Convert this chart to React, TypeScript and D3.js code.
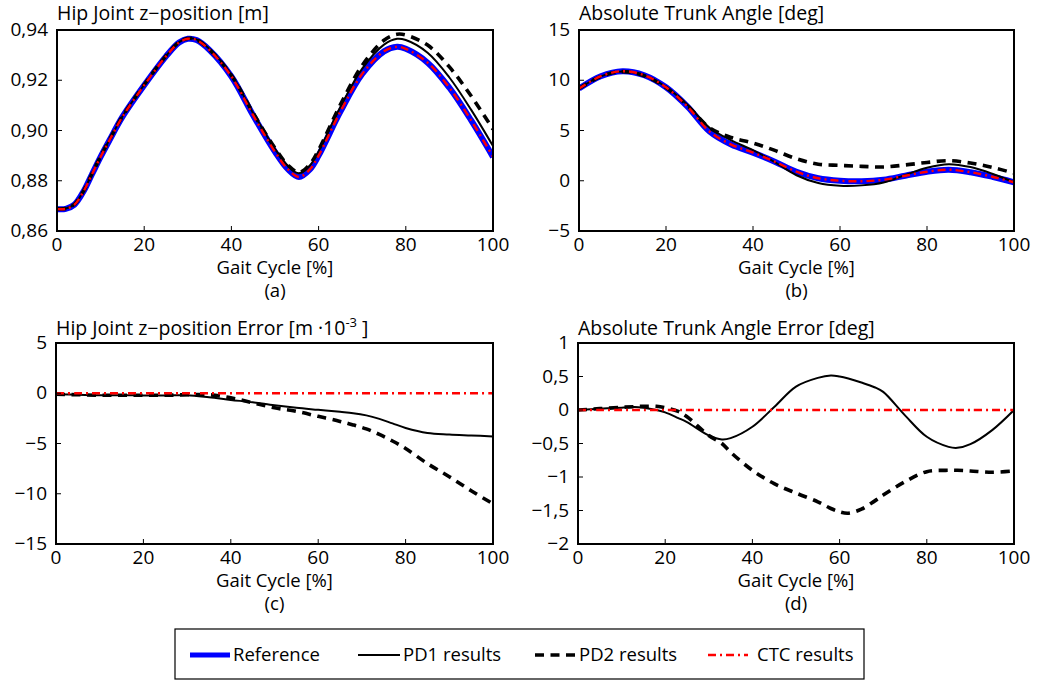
import React from "react";
import * as d3 from "d3";

// ---------- DATA ----------
const gaitHip = [0, 2, 4, 6, 8, 10, 12, 15, 20, 25, 28, 30, 32, 35, 40, 45, 50, 53, 55.5, 58, 60, 65, 70, 75, 78, 80, 85, 90, 95, 100];
const refHip = [0.8687, 0.8688, 0.8705, 0.8755, 0.8825, 0.8895, 0.896, 0.9054, 0.918, 0.9295, 0.935, 0.9365, 0.936, 0.932, 0.9215, 0.906, 0.8915, 0.8845, 0.8815, 0.8845, 0.89, 0.9075, 0.9225, 0.9315, 0.9333, 0.9325, 0.927, 0.917, 0.904, 0.8895];
const pd1Hip = [0.8688, 0.86895, 0.87065, 0.87567, 0.88268, 0.8897, 0.8962, 0.9056, 0.9182, 0.9297, 0.9352, 0.9367, 0.93625, 0.9324, 0.92216, 0.9069, 0.8927, 0.88585, 0.88297, 0.88607, 0.89165, 0.90935, 0.9246, 0.9342, 0.9365, 0.936, 0.93095, 0.9211, 0.9082, 0.8938];
const pd2Hip = [0.8688, 0.86895, 0.87065, 0.87567, 0.88268, 0.8897, 0.8962, 0.9056, 0.9182, 0.9297, 0.93515, 0.93665, 0.93615, 0.93215, 0.92195, 0.90695, 0.89295, 0.88615, 0.8833, 0.88655, 0.8923, 0.9103, 0.9259, 0.9359, 0.9383, 0.938, 0.934, 0.9253, 0.9137, 0.9005];
const ctcHip = [0.8687, 0.8688, 0.8705, 0.8755, 0.8825, 0.8895, 0.896, 0.9054, 0.918, 0.9295, 0.935, 0.9365, 0.936, 0.932, 0.9215, 0.906, 0.8915, 0.8845, 0.8815, 0.8845, 0.89, 0.9075, 0.9225, 0.9315, 0.9333, 0.9325, 0.927, 0.917, 0.904, 0.8895];

const gaitTrunk = [0, 5, 10, 15, 20, 25, 30, 35, 40, 45, 50, 55, 60, 65, 70, 75, 80, 85, 90, 95, 100];
const refTrunk = [9.17, 10.4, 10.9, 10.5, 9.3, 7.35, 4.9, 3.6, 2.8, 1.9, 0.9, 0.25, 0.0, -0.05, 0.1, 0.5, 0.9, 1.1, 0.85, 0.4, -0.15];
const pd1Trunk = [9.17, 10.38, 10.87, 10.47, 9.34, 7.53, 5.28, 4.02, 3.05, 1.86, 0.55, -0.23, -0.5, -0.46, -0.17, 0.58, 1.3, 1.65, 1.36, 0.7, -0.15];
const pd2Trunk = [9.17, 10.38, 10.86, 10.45, 9.27, 7.45, 5.28, 4.3, 3.75, 3.02, 2.19, 1.65, 1.53, 1.43, 1.37, 1.57, 1.82, 2.0, 1.76, 1.33, 0.76];
const ctcTrunk = [9.17, 10.4, 10.9, 10.5, 9.3, 7.35, 4.9, 3.6, 2.8, 1.9, 0.9, 0.25, 0.0, -0.05, 0.1, 0.5, 0.9, 1.1, 0.85, 0.4, -0.15];

const gaitHipErr = [0, 5, 10, 15, 20, 25, 30, 35, 40, 45, 50, 55, 60, 65, 68, 71, 74, 77, 80, 85, 90, 95, 100];
const pd1HipErr = [-0.1, -0.15, -0.2, -0.2, -0.22, -0.22, -0.2, -0.4, -0.66, -0.9, -1.2, -1.45, -1.65, -1.85, -1.98, -2.2, -2.55, -3.0, -3.45, -3.95, -4.1, -4.2, -4.3];
const pd2HipErr = [-0.1, -0.15, -0.2, -0.2, -0.2, -0.2, -0.15, -0.15, -0.45, -0.95, -1.45, -1.8, -2.3, -2.8, -3.15, -3.55, -4.1, -4.75, -5.5, -7.0, -8.3, -9.7, -11.0];
const ctcHipErr = [0, 0, 0, 0, 0, 0, 0, 0, 0, 0, 0, 0, 0, 0, 0, 0, 0, 0, 0, 0, 0, 0, 0];

const gaitTrunkErr = [0, 5, 10, 13, 15, 18, 20, 23, 25, 30, 33, 35, 40, 45, 50, 55, 58, 60, 62, 65, 68, 70, 75, 80, 85, 87, 90, 95, 100];
const pd1TrunkErr = [0, 0.02, 0.035, 0.045, 0.035, 0, -0.035, -0.12, -0.18, -0.38, -0.44, -0.42, -0.25, 0.045, 0.35, 0.48, 0.515, 0.5, 0.47, 0.41, 0.34, 0.27, -0.08, -0.4, -0.55, -0.565, -0.51, -0.3, 0.0];
const pd2TrunkErr = [0, 0.02, 0.04, 0.05, 0.055, 0.055, 0.035, -0.02, -0.1, -0.38, -0.5, -0.63, -0.9, -1.1, -1.24, -1.37, -1.47, -1.52, -1.54, -1.48, -1.36, -1.27, -1.07, -0.92, -0.9, -0.9, -0.91, -0.93, -0.91];
const ctcTrunkErr = [0, 0, 0, 0, 0, 0, 0, 0, 0, 0, 0, 0, 0, 0, 0, 0, 0, 0, 0, 0, 0, 0, 0, 0, 0, 0, 0, 0, 0];

const xTicks = [0, 20, 40, 60, 80, 100];
const yTicksHip = [0.86, 0.88, 0.9, 0.92, 0.94];
const yTicksTrunk = [-5, 0, 5, 10, 15];
const yTicksHipErr = [-15, -10, -5, 0, 5];
const yTicksTrunkErr = [-2, -1.5, -1, -0.5, 0, 0.5, 1];

const legendLabels = ["Reference", "PD1 results", "PD2 results", "CTC results"];

// ---------- STYLE ----------
const FONT = "'Open Sans', sans-serif";
const styles = [
  { stroke: "#0000ff", width: 6, dash: "" },
  { stroke: "#000000", width: 2, dash: "" },
  { stroke: "#000000", width: 3.6, dash: "9,6.5" },
  { stroke: "#ff0000", width: 2.4, dash: "8,4,2,4" },
];

const MINUS = "\u2212";
const fmtComma = (d: number, digits: number) =>
  d.toFixed(digits).replace(".", ",").replace("-", MINUS);

type PanelProps = {
  id: string;
  left: number;
  top: number;
  width: number;
  height: number;
  titleGap: number;
  xs: number[];
  series: (number[] | null)[];
  yDomain: [number, number];
  yTicks: number[];
  yFmt: (d: number) => string;
  title: React.ReactNode;
  sub: string;
};

function Panel(p: PanelProps) {
  const x = d3.scaleLinear().domain([0, 100]).range([p.left, p.left + p.width]);
  const y = d3.scaleLinear().domain(p.yDomain).range([p.top + p.height, p.top]);
  const line = d3
    .line<[number, number]>()
    .x((d) => x(d[0]))
    .y((d) => y(d[1]))
    .curve(d3.curveCatmullRom.alpha(0.5));
  const cx = p.left + p.width / 2;
  const bottom = p.top + p.height;
  return (
    <g>
      <defs>
        <clipPath id={"clip-" + p.id}>
          <rect x={p.left} y={p.top} width={p.width} height={p.height} />
        </clipPath>
      </defs>
      <text x={p.left} y={p.top - p.titleGap} fontFamily={FONT} fontSize={19.5} fill="#000">
        {p.title}
      </text>
      <g clipPath={`url(#clip-${p.id})`}>
        {p.series.map((vals, i) =>
          vals ? (
            <path
              key={i}
              d={line(p.xs.map((xv, j) => [xv, vals[j]] as [number, number])) || ""}
              fill="none"
              stroke={styles[i].stroke}
              strokeWidth={styles[i].width}
              strokeDasharray={styles[i].dash || undefined}
              strokeLinejoin="round"
            />
          ) : null
        )}
      </g>
      {xTicks.map((t) => (
        <g key={"xt" + t}>
          <line x1={x(t)} x2={x(t)} y1={bottom} y2={bottom - 5} stroke="#000" strokeWidth={1} />
          <text x={x(t)} y={bottom + 20} textAnchor="middle" fontFamily={FONT} fontSize={19} fill="#000">
            {t}
          </text>
        </g>
      ))}
      {p.yTicks.map((t) => (
        <g key={"yt" + t}>
          <line x1={p.left} x2={p.left + 5} y1={y(t)} y2={y(t)} stroke="#000" strokeWidth={1} />
          <text x={p.left - 9} y={y(t) + 6} textAnchor="end" fontFamily={FONT} fontSize={19} fill="#000">
            {p.yFmt(t)}
          </text>
        </g>
      ))}
      <rect x={p.left} y={p.top} width={p.width} height={p.height} fill="none" stroke="#000" strokeWidth={2} />
      <text x={cx} y={bottom + 43} textAnchor="middle" fontFamily={FONT} fontSize={18.5} fill="#000">
        Gait Cycle [%]
      </text>
      <text x={cx} y={bottom + 66} textAnchor="middle" fontFamily={FONT} fontSize={18.5} fill="#000">
        {p.sub}
      </text>
    </g>
  );
}

export default function App() {
  const W = 1043;
  const H = 681;
  const legendItems = [
    { lx: 190, lw: 40, tx: 233 },
    { lx: 358, lw: 42, tx: 403 },
    { lx: 535, lw: 40, tx: 579 },
    { lx: 708, lw: 40, tx: 757 },
  ];
  return (
    <svg
      width={W}
      height={H}
      style={{ position: "absolute", left: 0, top: 0, background: "#fff" }}
    >
      <rect x={0} y={0} width={W} height={H} fill="#fff" />
      <Panel
        id="a"
        left={57}
        top={30}
        width={436}
        height={201}
        titleGap={10.5}
        xs={gaitHip}
        series={[refHip, pd1Hip, pd2Hip, ctcHip]}
        yDomain={[0.86, 0.94]}
        yTicks={yTicksHip}
        yFmt={(d) => fmtComma(d, 2)}
        title={"Hip Joint z" + MINUS + "position [m]"}
        sub="(a)"
      />
      <Panel
        id="b"
        left={579}
        top={30}
        width={435}
        height={201}
        titleGap={10.5}
        xs={gaitTrunk}
        series={[refTrunk, pd1Trunk, pd2Trunk, ctcTrunk]}
        yDomain={[-5, 15]}
        yTicks={yTicksTrunk}
        yFmt={(d) => fmtComma(d, 0)}
        title="Absolute Trunk Angle [deg]"
        sub="(b)"
      />
      <Panel
        id="c"
        left={56}
        top={343}
        width={437}
        height={201}
        titleGap={8}
        xs={gaitHipErr}
        series={[null, pd1HipErr, pd2HipErr, ctcHipErr]}
        yDomain={[-15, 5]}
        yTicks={yTicksHipErr}
        yFmt={(d) => fmtComma(d, 0)}
        title={
          <>
            {"Hip Joint z" + MINUS + "position Error [m \u00b710"}
            <tspan dy={-8} fontSize={13}>
              -3
            </tspan>
            <tspan dy={8}>{" ]"}</tspan>
          </>
        }
        sub="(c)"
      />
      <Panel
        id="d"
        left={578}
        top={343}
        width={436}
        height={201}
        titleGap={8}
        xs={gaitTrunkErr}
        series={[null, pd1TrunkErr, pd2TrunkErr, ctcTrunkErr]}
        yDomain={[-2, 1]}
        yTicks={yTicksTrunkErr}
        yFmt={(d) => fmtComma(d, Number.isInteger(d) ? 0 : 1)}
        title="Absolute Trunk Angle Error [deg]"
        sub="(d)"
      />
      {/* Legend */}
      <rect x={175} y={629} width={689} height={50} fill="#fff" stroke="#000" strokeWidth={1.2} />
      {legendItems.map((it, i) => (
        <g key={i}>
          <line
            x1={it.lx}
            x2={it.lx + it.lw}
            y1={655}
            y2={655}
            stroke={styles[i].stroke}
            strokeWidth={i === 0 ? 5 : styles[i].width}
            strokeDasharray={styles[i].dash || undefined}
          />
          <text x={it.tx} y={661} fontFamily={FONT} fontSize={18.5} fill="#000">
            {legendLabels[i]}
          </text>
        </g>
      ))}
    </svg>
  );
}
